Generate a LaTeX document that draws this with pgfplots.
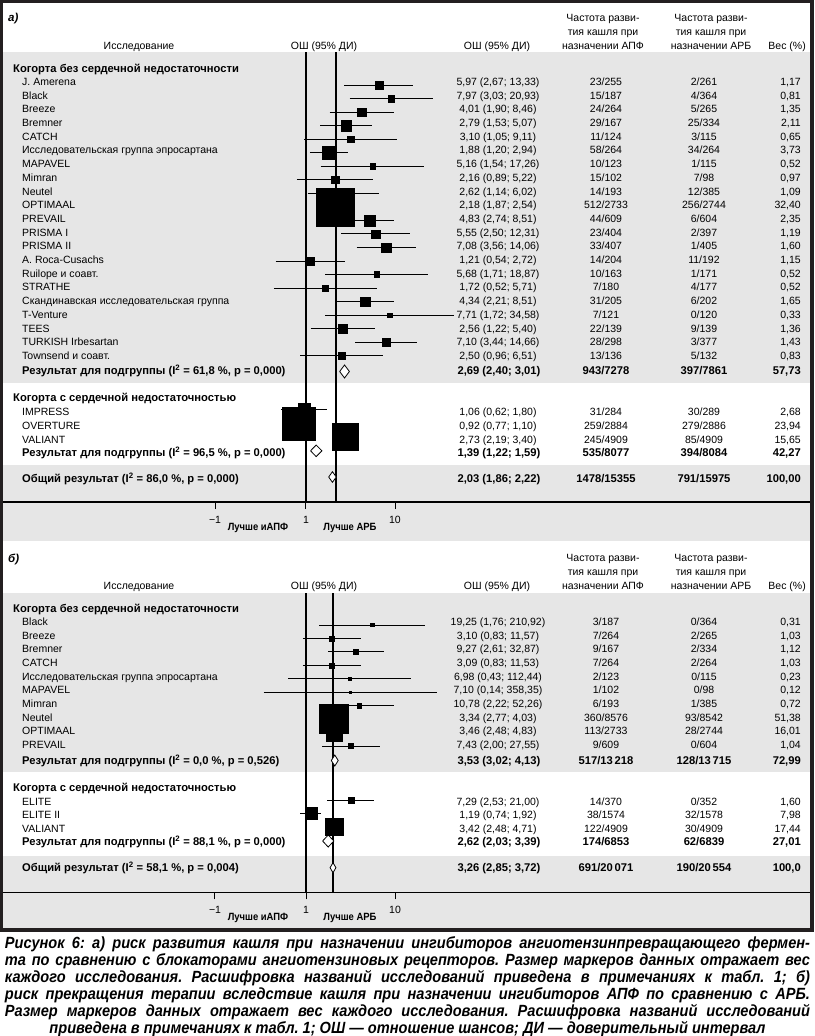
\documentclass[border=0pt]{standalone}
\usepackage{pgfplots}
\pgfplotsset{compat=1.18}
\usepackage{pgfplotstable}
\usepackage{fontspec}
\setmainfont{Liberation Sans}
\newfontfamily\capfont[FakeStretch=0.9]{Liberation Sans}
\definecolor{bg}{RGB}{230,230,230}
\definecolor{fr}{RGB}{35,31,32}
\newcommand\tabfnt{\fontsize{10.5}{12}\selectfont}
\newcommand\boldfnt{\fontsize{11.2}{13}\selectfont\bfseries}
\frenchspacing

% panel a studies: y (row position), OR, half side of marker
\pgfplotstableread{
y      or    h
-85.0  5.97  4.02
-98.5  7.97  3.43
-112.1 4.01  4.28
-125.6 2.79  5.22
-139.1 3.10  3.12
-152.7 1.88  6.78
-166.2 5.16  2.84
-179.7 2.16  3.70
-193.3 2.62  3.89
-206.8 2.18  19.00
-220.4 4.83  5.48
-233.9 5.55  4.05
-247.4 7.08  4.61
-261.0 1.21  3.98
-274.5 5.68  2.84
-288.0 1.72  2.84
-301.6 4.34  4.67
-315.1 7.71  2.37
-328.6 2.56  4.29
-342.2 7.10  4.39
-355.7 2.50  3.46
-409.3 1.06  5.82
-423.5 0.92  16.40
-436.7 2.73  13.36
}\tabA
% panel a confidence intervals (lower, upper)
\pgfplotstableread{
x      y
2.67   -85.0
13.33  -85.0
nan    nan
3.03   -98.5
20.93  -98.5
nan    nan
1.90   -112.1
8.46   -112.1
nan    nan
1.53   -125.6
5.07   -125.6
nan    nan
1.05   -139.1
9.11   -139.1
nan    nan
1.20   -152.7
2.94   -152.7
nan    nan
1.54   -166.2
17.26  -166.2
nan    nan
0.89   -179.7
5.22   -179.7
nan    nan
1.14   -193.3
6.02   -193.3
nan    nan
1.87   -206.8
2.54   -206.8
nan    nan
2.74   -220.4
8.51   -220.4
nan    nan
2.50   -233.9
12.31  -233.9
nan    nan
3.56   -247.4
14.06  -247.4
nan    nan
0.54   -261.0
2.72   -261.0
nan    nan
1.71   -274.5
18.87  -274.5
nan    nan
0.52   -288.0
5.71   -288.0
nan    nan
2.21   -301.6
8.51   -301.6
nan    nan
1.72   -315.1
34.58  -315.1
nan    nan
1.22   -328.6
5.40   -328.6
nan    nan
3.44   -342.2
14.66  -342.2
nan    nan
0.96   -355.7
6.51   -355.7
nan    nan
0.62   -409.3
1.80   -409.3
nan    nan
0.77   -423.5
1.10   -423.5
nan    nan
2.19   -436.7
3.40   -436.7
}\ciA

% panel b studies
\pgfplotstableread{
y      or     h
-625.0 19.25  1.59
-638.4 3.10   2.48
-651.9 9.27   2.56
-665.3 3.09   2.48
-678.8 6.98   1.44
-692.2 7.10   1.18
-705.6 10.78  2.15
-719.1 3.34   14.48
-732.5 3.46   8.30
-746.0 7.43   2.49
-800.0 7.29   2.97
-813.3 1.19   6.01
-826.7 3.42   8.64
}\tabB
\pgfplotstableread{
x       y
1.76    -625.0
210.92  -625.0
nan     nan
0.83    -638.4
11.57   -638.4
nan     nan
2.61    -651.9
32.87   -651.9
nan     nan
0.83    -665.3
11.53   -665.3
nan     nan
0.43    -678.8
112.44  -678.8
nan     nan
0.14    -692.2
358.35  -692.2
nan     nan
2.22    -705.6
52.26   -705.6
nan     nan
2.77    -719.1
4.03    -719.1
nan     nan
2.48    -732.5
4.83    -732.5
nan     nan
2.00    -746.0
27.55   -746.0
nan     nan
2.53    -800.0
21.00   -800.0
nan     nan
0.74    -813.3
1.92    -813.3
nan     nan
2.48    -826.7
4.71    -826.7
}\ciB

\newcommand\R[6]{%
  \node[anchor=mid west] at (22,#1) {#2};
  \node at (498,#1) {#3};
  \node at (606,#1) {#4};
  \node at (704,#1) {#5};
  \node[anchor=mid east] at (801,#1) {#6};}
\newcommand\RB[6]{%
  \node[anchor=mid west,font=\boldfnt] at (22,#1) {#2};
  \node[font=\boldfnt] at (499,#1) {#3};
  \node[font=\boldfnt] at (606,#1) {#4};
  \node[font=\boldfnt] at (704,#1) {#5};
  \node[anchor=mid east,font=\boldfnt] at (801,#1) {#6};}
\newcommand\Head[2]{%
  \node[anchor=mid west, font=\fontsize{11.5}{13}\selectfont\bfseries\itshape] at (8,#1-27.3) {#2};
  \node at (139,#1) {Исследование};
  \node at (324,#1) {ОШ (95\% ДИ)};
  \node at (497,#1) {ОШ (95\% ДИ)};
  \node at (603,#1-27.7) {Частота разви-};
  \node at (603,#1-13.7) {тия кашля при};
  \node at (603,#1) {назначении АПФ};
  \node at (711,#1-27.7) {Частота разви-};
  \node at (711,#1-13.7) {тия кашля при};
  \node at (711,#1) {назначении АРБ};
  \node[anchor=mid east] at (806,#1) {Вес (\%)};}

\begin{document}
\begin{tikzpicture}
\begin{scope}[x=1pt,y=-1pt]
\fill[white] (0,0) rectangle (814,1036);
\fill[fr] (0,0) rectangle (814,931.5);
\fill[white] (3,3) rectangle (810,928);
\fill[bg] (3,52) rectangle (810,383);
\fill[bg] (3,465) rectangle (810,541);
\fill[bg] (3,593) rectangle (810,772);
\fill[bg] (3,856) rectangle (810,928);
\end{scope}

% ---------- panel a ----------
\begin{axis}[at={(3pt,-52pt)}, anchor=north west,
  scale only axis, width=807pt, height=450pt, xmode=log,
  xmin=9.5455e-4, xmax=1.3530e5, ymin=-502, ymax=-52,
  axis x line=bottom, axis y line=none,
  axis line style={-, line width=1.1pt, black},
  xtick={0.13223,1.0975,8.6975}, xticklabels={−1,1,10},
  xminorticks=false, tick align=outside, major tick length=7pt,
  tick style={black, line width=1pt},
  xticklabel style={font=\tabfnt, anchor=base, yshift=-14pt},
  clip=false]
\draw[black, line width=1.1pt] (axis cs:1.0975,-52) -- (axis cs:1.0975,-502);
\draw[black, line width=1.1pt] (axis cs:2.2057,-52) -- (axis cs:2.2057,-502);
\addplot[black, line width=0.9pt, mark=none, unbounded coords=jump] table[x=x, y=y] {\ciA};
\addplot[scatter, only marks, mark=square*,
    scatter/use mapped color={draw=black,fill=black},
    visualization depends on={\thisrow{h} \as \hs},
    scatter/@pre marker code/.append style={/tikz/mark size=\hs}] table[x=or, y=y] {\tabA};
\addplot[draw=black, fill=white, line width=0.8pt, mark=none] coordinates {(2.40,-371.5) (2.69,-365) (3.01,-371.5) (2.69,-378) (2.40,-371.5)};
\addplot[draw=black, fill=white, line width=0.8pt, mark=none] coordinates {(1.22,-450.8) (1.39,-445) (1.59,-450.8) (1.39,-456.6) (1.22,-450.8)};
\addplot[draw=black, fill=white, line width=0.8pt, mark=none] coordinates {(1.86,-477) (2.03,-471.7) (2.22,-477) (2.03,-482.3) (1.86,-477)};
\end{axis}

% ---------- panel b ----------
\begin{axis}[at={(3pt,-593pt)}, anchor=north west,
  scale only axis, width=807pt, height=299.3pt, xmode=log,
  xmin=1.00911e-6, xmax=8.3386e9, ymin=-892.3, ymax=-593,
  axis x line=bottom, axis y line=none,
  axis line style={-, line width=1.1pt, black},
  xtick={0.015323,0.95561,54.41}, xticklabels={−1,1,10},
  xminorticks=false, tick align=outside, major tick length=7pt,
  tick style={black, line width=1pt},
  xticklabel style={font=\tabfnt, anchor=base, yshift=-14pt},
  clip=false]
\draw[black, line width=1.1pt] (axis cs:0.95561,-593) -- (axis cs:0.95561,-892.3);
\draw[black, line width=1.1pt] (axis cs:3.2575,-593) -- (axis cs:3.2575,-892.3);
\addplot[black, line width=0.9pt, mark=none, unbounded coords=jump] table[x=x, y=y] {\ciB};
\addplot[scatter, only marks, mark=square*,
    scatter/use mapped color={draw=black,fill=black},
    visualization depends on={\thisrow{h} \as \hs},
    scatter/@pre marker code/.append style={/tikz/mark size=\hs}] table[x=or, y=y] {\tabB};
\addplot[draw=black, fill=white, line width=0.8pt, mark=none] coordinates {(3.02,-760.5) (3.53,-755) (4.13,-760.5) (3.53,-766) (3.02,-760.5)};
\addplot[draw=black, fill=white, line width=0.8pt, mark=none] coordinates {(2.03,-841) (2.62,-835) (3.39,-841) (2.62,-847) (2.03,-841)};
\addplot[draw=black, fill=white, line width=0.8pt, mark=none] coordinates {(2.85,-867.7) (3.26,-862.7) (3.72,-867.7) (3.26,-872.7) (2.85,-867.7)};
\end{axis}

\begin{scope}[x=1pt,y=-1pt, every node/.style={inner sep=0pt, anchor=mid, font=\tabfnt, yshift=-1.5pt}]
% panel a text
\Head{45}{а)}
\node[anchor=mid west, font=\boldfnt] at (13,68) {Когорта без сердечной недостаточности};
\R{81.3}{J. Amerena}{5,97 (2,67; 13,33)}{23/255}{2/261}{1,17}
\R{95.0}{Black}{7,97 (3,03; 20,93)}{15/187}{4/364}{0,81}
\R{108.7}{Breeze}{4,01 (1,90; 8,46)}{24/264}{5/265}{1,35}
\R{122.4}{Bremner}{2,79 (1,53; 5,07)}{29/167}{25/334}{2,11}
\R{136.1}{CATCH}{3,10 (1,05; 9,11)}{11/124}{3/115}{0,65}
\R{149.8}{Исследовательская группа эпросартана}{1,88 (1,20; 2,94)}{58/264}{34/264}{3,73}
\R{163.5}{MAPAVEL}{5,16 (1,54; 17,26)}{10/123}{1/115}{0,52}
\R{177.2}{Mimran}{2,16 (0,89; 5,22)}{15/102}{7/98}{0,97}
\R{190.9}{Neutel}{2,62 (1,14; 6,02)}{14/193}{12/385}{1,09}
\R{204.6}{OPTIMAAL}{2,18 (1,87; 2,54)}{512/2733}{256/2744}{32,40}
\R{218.3}{PREVAIL}{4,83 (2,74; 8,51)}{44/609}{6/604}{2,35}
\R{232.0}{PRISMA I}{5,55 (2,50; 12,31)}{23/404}{2/397}{1,19}
\R{245.7}{PRISMA II}{7,08 (3,56; 14,06)}{33/407}{1/405}{1,60}
\R{259.4}{A. Roca-Cusachs}{1,21 (0,54; 2,72)}{14/204}{11/192}{1,15}
\R{273.1}{Ruilope и соавт.}{5,68 (1,71; 18,87)}{10/163}{1/171}{0,52}
\R{286.8}{STRATHE}{1,72 (0,52; 5,71)}{7/180}{4/177}{0,52}
\R{300.5}{Скандинавская исследовательская группа}{4,34 (2,21; 8,51)}{31/205}{6/202}{1,65}
\R{314.2}{T-Venture}{7,71 (1,72; 34,58)}{7/121}{0/120}{0,33}
\R{327.9}{TEES}{2,56 (1,22; 5,40)}{22/139}{9/139}{1,36}
\R{341.6}{TURKISH Irbesartan}{7,10 (3,44; 14,66)}{28/298}{3/377}{1,43}
\R{355.3}{Townsend и соавт.}{2,50 (0,96; 6,51)}{13/136}{5/132}{0,83}
\RB{370}{Результат для подгруппы (I\textsuperscript{2} = 61,8 \%, p = 0,000)}{2,69 (2,40; 3,01)}{943/7278}{397/7861}{57,73}
\node[anchor=mid west, font=\boldfnt] at (13,397) {Когорта с сердечной недостаточностью};
\R{411}{IMPRESS}{1,06 (0,62; 1,80)}{31/284}{30/289}{2,68}
\R{425}{OVERTURE}{0,92 (0,77; 1,10)}{259/2884}{279/2886}{23,94}
\R{439}{VALIANT}{2,73 (2,19; 3,40)}{245/4909}{85/4909}{15,65}
\RB{452.7}{Результат для подгруппы (I\textsuperscript{2} = 96,5 \%, p = 0,000)}{1,39 (1,22; 1,59)}{535/8077}{394/8084}{42,27}
\RB{478}{Общий результат (I\textsuperscript{2} = 86,0 \%, p = 0,000)}{2,03 (1,86; 2,22)}{1478/15355}{791/15975}{100,00}
\node[font=\capfont\bfseries\fontsize{10.5}{12}\selectfont] at (258,526) {Лучше иАПФ};
\node[font=\capfont\bfseries\fontsize{10.5}{12}\selectfont] at (350,526) {Лучше АРБ};

% panel b text
\Head{585.5}{б)}
\node[anchor=mid west, font=\boldfnt] at (13,608.3) {Когорта без сердечной недостаточности};
\R{621.5}{Black}{19,25 (1,76; 210,92)}{3/187}{0/364}{0,31}
\R{635.2}{Breeze}{3,10 (0,83; 11,57)}{7/264}{2/265}{1,03}
\R{648.8}{Bremner}{9,27 (2,61; 32,87)}{9/167}{2/334}{1,12}
\R{662.5}{CATCH}{3,09 (0,83; 11,53)}{7/264}{2/264}{1,03}
\R{676.2}{Исследовательская группа эпросартана}{6,98 (0,43; 112,44)}{2/123}{0/115}{0,23}
\R{689.8}{MAPAVEL}{7,10 (0,14; 358,35)}{1/102}{0/98}{0,12}
\R{703.5}{Mimran}{10,78 (2,22; 52,26)}{6/193}{1/385}{0,72}
\R{717.2}{Neutel}{3,34 (2,77; 4,03)}{360/8576}{93/8542}{51,38}
\R{730.8}{OPTIMAAL}{3,46 (2,48; 4,83)}{113/2733}{28/2744}{16,01}
\R{744.5}{PREVAIL}{7,43 (2,00; 27,55)}{9/609}{0/604}{1,04}
\RB{760.5}{Результат для подгруппы (I\textsuperscript{2} = 0,0 \%, p = 0,526)}{3,53 (3,02; 4,13)}{517/13\,218}{128/13\,715}{72,99}
\node[anchor=mid west, font=\boldfnt] at (13,787) {Когорта с сердечной недостаточностью};
\R{801}{ELITE}{7,29 (2,53; 21,00)}{14/370}{0/352}{1,60}
\R{814.5}{ELITE II}{1,19 (0,74; 1,92)}{38/1574}{32/1578}{7,98}
\R{828.5}{VALIANT}{3,42 (2,48; 4,71)}{122/4909}{30/4909}{17,44}
\RB{841.7}{Результат для подгруппы (I\textsuperscript{2} = 88,1 \%, p = 0,000)}{2,62 (2,03; 3,39)}{174/6853}{62/6839}{27,01}
\RB{867.7}{Общий результат (I\textsuperscript{2} = 58,1 \%, p = 0,004)}{3,26 (2,85; 3,72)}{691/20\,071}{190/20\,554}{100,0}
\node[font=\capfont\bfseries\fontsize{10.5}{12}\selectfont] at (258,916.5) {Лучше иАПФ};
\node[font=\capfont\bfseries\fontsize{10.5}{12}\selectfont] at (350,916.5) {Лучше АРБ};

% caption
\begin{scope}[every node/.style={inner sep=0pt, anchor=mid, yshift=-2.5pt, font=\capfont\bfseries\itshape\fontsize{16.2}{18}\selectfont\frenchspacing}]
\node at (407.5,943) {\makebox[805pt][s]{Рисунок 6: а) риск развития кашля при назначении ингибиторов ангиотензинпревращающего фермен-}};
\node at (407.5,960) {\makebox[805pt][s]{та по сравнению с блокаторами ангиотензиновых рецепторов. Размер маркеров данных отражает вес}};
\node at (407.5,977) {\makebox[805pt][s]{каждого исследования. Расшифровка названий исследований приведена в примечаниях к табл. 1; б)}};
\node at (407.5,994) {\makebox[805pt][s]{риск прекращения терапии вследствие кашля при назначении ингибиторов АПФ по сравнению с АРБ.}};
\node at (407.5,1011) {\makebox[805pt][s]{Размер маркеров данных отражает вес каждого исследования. Расшифровка названий исследований}};
\node at (407.5,1028) {приведена в примечаниях к табл. 1; ОШ — отношение шансов; ДИ — доверительный интервал};
\end{scope}
\end{scope}
\pgfresetboundingbox
\useasboundingbox (0pt,0pt) rectangle (814pt,-1036pt);
\end{tikzpicture}
\end{document}
